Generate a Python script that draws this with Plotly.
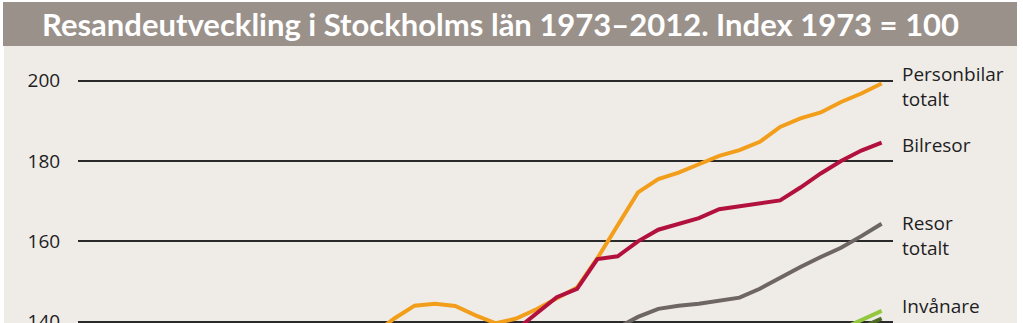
import plotly.graph_objects as go

# ---- data ----
pb_years = list(range(1987, 2013))
pb_vals = [137.0, 140.8, 144.0, 144.5, 143.9, 141.6, 139.6, 140.8, 143.1, 145.8,
           148.5, 155.8, 164.0, 172.2, 175.5, 177.1, 179.2, 181.3, 182.7, 184.8,
           188.5, 190.6, 192.1, 194.7, 196.8, 199.3]

bil_years = list(range(1994, 2013))
bil_vals = [138.0, 142.0, 146.1, 148.2, 155.6, 156.3, 160.0, 162.9, 164.4, 165.8,
            168.0, 168.7, 169.4, 170.2, 173.4, 176.9, 180.0, 182.6, 184.6]

tot_years = list(range(1999, 2013))
tot_vals = [138.5, 141.2, 143.2, 144.0, 144.5, 145.2, 146.0, 148.2, 151.0, 153.6,
            156.1, 158.4, 161.3, 164.4]

inv_years = [2010, 2011, 2012]
inv_vals = [138.1, 140.4, 142.7]

dg_years = [2011, 2012]
dg_vals = [138.5, 140.8]

y_ticks = [140, 160, 180, 200]
title_text = "Resandeutveckling i Stockholms län 1973–2012. Index 1973 = 100"
labels = ["Personbilar<br>totalt", "Bilresor", "Resor<br>totalt", "Invånare"]

# ---- layout geometry ----
W, H = 1023, 323
L, R, T, B = 78, 893, 50, 323
YR = [139.68, 207.64]


def px(x):
    return (x - L) / (R - L)


def py(y):
    return (B - y) / (B - T)


fig = go.Figure()
series = [
    (pb_years, pb_vals, "#f29e1b"),
    (bil_years, bil_vals, "#b2113d"),
    (tot_years, tot_vals, "#6e6662"),
    (inv_years, inv_vals, "#93c83e"),
    (dg_years, dg_vals, "#4f6c26"),
]
for xs, ys, c in series:
    fig.add_trace(go.Scatter(x=xs, y=ys, mode="lines",
                             line=dict(color=c, width=4), hoverinfo="skip"))

shapes = [
    # light panel
    dict(type="rect", xref="paper", yref="paper", x0=px(4), x1=px(1017),
         y0=py(330), y1=py(46), fillcolor="#efece8", line_width=0, layer="below"),
    # title bar
    dict(type="rect", xref="paper", yref="paper", x0=px(3), x1=px(1017),
         y0=py(46), y1=py(2), fillcolor="#9a918b", line_width=0, layer="below"),
]
fig.update_layout(shapes=shapes)

annos = [dict(text=title_text, xref="paper", yref="paper", x=px(40), y=py(24),
              xanchor="left", yanchor="middle", showarrow=False,
              font=dict(family="Lato, sans-serif", size=31, color="white", weight="bold"))]
label_pix = [86.5, 145, 235, 305.5]
for t, yp in zip(labels, label_pix):
    annos.append(dict(text=t, xref="paper", yref="paper", x=px(900), y=py(yp),
                      xanchor="left", yanchor="middle", align="left", showarrow=False,
                      font=dict(family="Open Sans, Noto Sans, sans-serif", size=19, color="#1e1e1e")))
fig.update_layout(annotations=annos)

fig.update_layout(
    width=W, height=H,
    margin=dict(l=L, r=W - R, t=T, b=H - B, pad=0, autoexpand=False),
    paper_bgcolor="white",
    plot_bgcolor="rgba(0,0,0,0)",
    showlegend=False,
    xaxis=dict(range=[1972.42, 2012.56], showgrid=False, zeroline=False,
               showticklabels=False, showline=False, ticks="", automargin=False),
    yaxis=dict(range=YR, tickvals=y_ticks, showgrid=True, gridcolor="#2a2a2a",
               gridwidth=1.5, zeroline=False, showline=False, automargin=False,
               ticks="outside", ticklen=13, tickcolor="rgba(0,0,0,0)",
               ticklabeloverflow="allow",
               tickfont=dict(family="Open Sans, Noto Sans, sans-serif", size=19, color="#1e1e1e")),
)

fig.write_html("out.html")
